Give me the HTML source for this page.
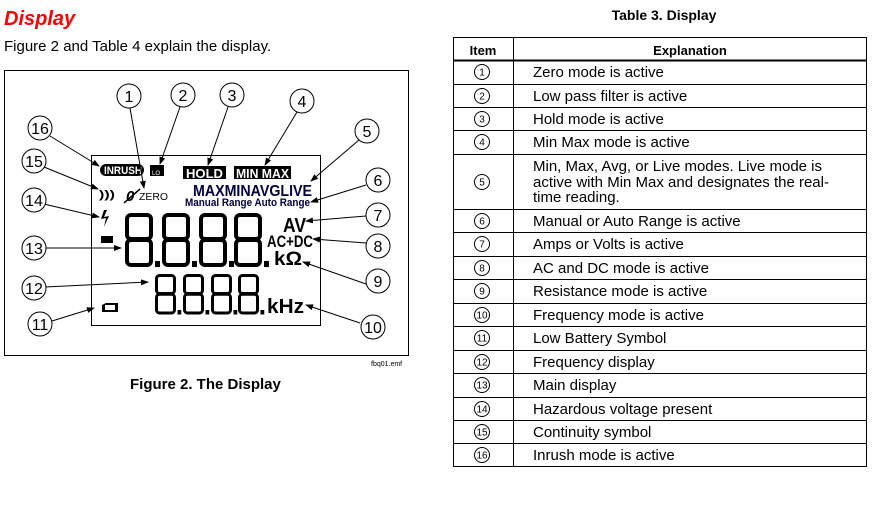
<!DOCTYPE html>
<html><head><meta charset="utf-8"><style>
html,body{margin:0;padding:0;background:#fff;}
svg{display:block;}
text{font-family:"Liberation Sans",Arial,sans-serif;}
</style></head><body>
<svg width="877" height="513" viewBox="0 0 877 513" xmlns="http://www.w3.org/2000/svg">
<defs>
<marker id="ah" markerWidth="8" markerHeight="8" refX="7" refY="4" orient="auto" markerUnits="userSpaceOnUse">
<path d="M0,1 L8,4 L0,7 Z" fill="#000"/></marker>
<g id="dg">
<rect x="2" y="2" width="24" height="24" rx="4" fill="none" stroke="#000" stroke-width="4"/>
<rect x="2" y="27" width="24" height="25" rx="4" fill="none" stroke="#000" stroke-width="4"/>
<rect x="30" y="48" width="5" height="6" fill="#000"/>
</g>
</defs>
<text x="4" y="25" font-size="20" font-weight="bold" font-style="italic" fill="#ff0000">Display</text>
<text x="4" y="51" font-size="15">Figure 2 and Table 4 explain the display.</text>
<rect x="4.5" y="70.5" width="404" height="285" fill="none" stroke="#000" stroke-width="1"/>
<rect x="91.5" y="155.5" width="229" height="170" fill="none" stroke="#000" stroke-width="1"/>
<text x="371" y="366" font-size="7">fbq01.emf</text>
<text x="130" y="389" font-size="15" font-weight="bold">Figure 2. The Display</text>
<rect x="100" y="164" width="44" height="12" rx="6" fill="#000"/>
<text x="104" y="174" font-size="11" font-weight="bold" fill="#fff" textLength="38" lengthAdjust="spacingAndGlyphs">INRUSH</text>
<rect x="150" y="165" width="14" height="11" fill="#000"/>
<text x="152" y="175" font-size="6" fill="#fff">LO</text>
<rect x="183" y="166" width="43" height="13" fill="#000"/>
<text x="186" y="178" font-size="13" font-weight="bold" fill="#fff" textLength="37" lengthAdjust="spacingAndGlyphs">HOLD</text>
<rect x="234" y="166" width="57" height="13" fill="#000"/>
<text x="236" y="178" font-size="13" font-weight="bold" fill="#fff" textLength="53" lengthAdjust="spacingAndGlyphs">MIN MAX</text>
<text x="193" y="196" font-size="16" font-weight="bold" fill="#000040" textLength="119" lengthAdjust="spacingAndGlyphs">MAXMINAVGLIVE</text>
<text x="185" y="206" font-size="11" font-weight="bold" fill="#000040" textLength="125" lengthAdjust="spacingAndGlyphs">Manual  Range Auto Range</text>
<text x="126" y="201" font-size="15" font-weight="bold" font-style="italic">0</text>
<line x1="124" y1="203" x2="140" y2="189" stroke="#000" stroke-width="1.5"/>
<text x="139" y="200" font-size="10" textLength="29" lengthAdjust="spacingAndGlyphs">ZERO</text>
<text x="99" y="198" font-size="11" font-weight="bold" textLength="16" lengthAdjust="spacingAndGlyphs">)))</text>
<path d="M104,210 L101,219 L106,218 L104,227 L109,216 L104,217 L107,210 Z" fill="#000"/>
<rect x="101" y="236" width="12" height="7" fill="#000"/>
<use href="#dg" x="125" y="213"/>
<use href="#dg" x="162" y="213"/>
<use href="#dg" x="199" y="213"/>
<use href="#dg" x="234" y="213"/>
<use href="#dg" transform="translate(155,274) scale(0.75)"/>
<use href="#dg" transform="translate(183,274) scale(0.75)"/>
<use href="#dg" transform="translate(211,274) scale(0.75)"/>
<use href="#dg" transform="translate(238,274) scale(0.75)"/>
<text x="283" y="232" font-size="20" font-weight="bold" textLength="23" lengthAdjust="spacingAndGlyphs">AV</text>
<text x="267" y="247" font-size="17" font-weight="bold" textLength="46" lengthAdjust="spacingAndGlyphs">AC+DC</text>
<text x="274" y="265" font-size="19" font-weight="bold" textLength="28" lengthAdjust="spacingAndGlyphs">kΩ</text>
<text x="267" y="313" font-size="20" font-weight="bold" textLength="37" lengthAdjust="spacingAndGlyphs">kHz</text>
<path d="M102,305 L106,303 L118,303 L118,312 L102,312 Z" fill="#000"/>
<rect x="105" y="305" width="10" height="5" fill="#fff"/>
<g stroke="#000" stroke-width="1" marker-end="url(#ah)" fill="none">
<line x1="130" y1="108" x2="144" y2="188"/>
<line x1="180" y1="107" x2="160" y2="164"/>
<line x1="228" y1="107" x2="208" y2="165"/>
<line x1="297" y1="112" x2="265" y2="165"/>
<line x1="359" y1="140" x2="311" y2="181"/>
<line x1="366" y1="185" x2="311" y2="202"/>
<line x1="366" y1="216" x2="306" y2="221"/>
<line x1="366" y1="243" x2="313" y2="239"/>
<line x1="366" y1="284" x2="303" y2="262"/>
<line x1="360" y1="323" x2="306" y2="305"/>
<line x1="52" y1="321" x2="94" y2="308"/>
<line x1="45" y1="287" x2="148" y2="282"/>
<line x1="45" y1="248" x2="121" y2="248"/>
<line x1="44" y1="204" x2="99" y2="217"/>
<line x1="44" y1="167" x2="98" y2="189"/>
<line x1="50" y1="136" x2="99" y2="166"/>
</g>
<g font-size="16" text-anchor="middle">
<g fill="#fff" stroke="#000" stroke-width="1">
<circle cx="129" cy="96" r="12"/><circle cx="183" cy="95" r="12"/><circle cx="232" cy="95" r="12"/><circle cx="302" cy="101" r="12"/>
<circle cx="367" cy="131" r="12"/><circle cx="378" cy="180" r="12"/><circle cx="378" cy="215" r="12"/><circle cx="378" cy="246" r="12"/>
<circle cx="378" cy="281" r="12"/><circle cx="373" cy="327" r="12"/><circle cx="40" cy="324" r="12"/><circle cx="34" cy="288" r="12"/>
<circle cx="34" cy="248" r="12"/><circle cx="34" cy="200" r="12"/><circle cx="34" cy="161" r="12"/><circle cx="40" cy="128" r="12"/>
</g>
<text x="129" y="102">1</text><text x="183" y="101">2</text><text x="232" y="101">3</text><text x="302" y="107">4</text>
<text x="367" y="137">5</text><text x="378" y="186">6</text><text x="378" y="221">7</text><text x="378" y="252">8</text>
<text x="378" y="287">9</text><text x="373" y="333">10</text><text x="40" y="330">11</text><text x="34" y="294">12</text>
<text x="34" y="254">13</text><text x="34" y="206">14</text><text x="34" y="167">15</text><text x="40" y="134">16</text>
</g>
<text x="664" y="20" font-size="14" font-weight="bold" text-anchor="middle">Table 3. Display</text>
<rect x="453.5" y="37.5" width="413" height="429" fill="none" stroke="#000"/>
<line x1="513.5" y1="37" x2="513.5" y2="467" stroke="#000"/>
<line x1="453" y1="60.5" x2="867" y2="60.5" stroke="#000" stroke-width="2"/>
<g stroke="#000" stroke-width="1">
<line x1="453" y1="84.5" x2="867" y2="84.5"/><line x1="453" y1="107.5" x2="867" y2="107.5"/>
<line x1="453" y1="130.5" x2="867" y2="130.5"/><line x1="453" y1="154.5" x2="867" y2="154.5"/>
<line x1="453" y1="209.5" x2="867" y2="209.5"/><line x1="453" y1="232.5" x2="867" y2="232.5"/>
<line x1="453" y1="256.5" x2="867" y2="256.5"/><line x1="453" y1="279.5" x2="867" y2="279.5"/>
<line x1="453" y1="303.5" x2="867" y2="303.5"/><line x1="453" y1="326.5" x2="867" y2="326.5"/>
<line x1="453" y1="350.5" x2="867" y2="350.5"/><line x1="453" y1="373.5" x2="867" y2="373.5"/>
<line x1="453" y1="397.5" x2="867" y2="397.5"/><line x1="453" y1="420.5" x2="867" y2="420.5"/>
<line x1="453" y1="443.5" x2="867" y2="443.5"/>
</g>
<text x="483" y="55" font-size="13" font-weight="bold" text-anchor="middle">Item</text>
<text x="690" y="55" font-size="13" font-weight="bold" text-anchor="middle">Explanation</text>
<g fill="none" stroke="#000" stroke-width="1">
<circle cx="482" cy="72" r="7.5"/><circle cx="482" cy="96" r="7.5"/><circle cx="482" cy="119" r="7.5"/><circle cx="482" cy="142" r="7.5"/>
<circle cx="482" cy="182" r="7.5"/><circle cx="482" cy="221" r="7.5"/><circle cx="482" cy="244" r="7.5"/><circle cx="482" cy="268" r="7.5"/>
<circle cx="482" cy="291" r="7.5"/><circle cx="482" cy="315" r="7.5"/><circle cx="482" cy="338" r="7.5"/><circle cx="482" cy="362" r="7.5"/>
<circle cx="482" cy="385" r="7.5"/><circle cx="482" cy="409" r="7.5"/><circle cx="482" cy="432" r="7.5"/><circle cx="482" cy="455" r="7.5"/>
</g>
<g font-size="10" text-anchor="middle">
<text x="482" y="75.5">1</text><text x="482" y="99.5">2</text><text x="482" y="122.5">3</text><text x="482" y="145.5">4</text>
<text x="482" y="185.5">5</text><text x="482" y="224.5">6</text><text x="482" y="247.5">7</text><text x="482" y="271.5">8</text>
<text x="482" y="294.5">9</text><text x="482" y="318.5">10</text><text x="482" y="341.5">11</text><text x="482" y="365.5">12</text>
<text x="482" y="388.5">13</text><text x="482" y="412.5">14</text><text x="482" y="435.5">15</text><text x="482" y="458.5">16</text>
</g>
<g font-size="15">
<text x="533" y="77">Zero mode is active</text>
<text x="533" y="101">Low pass filter is active</text>
<text x="533" y="124">Hold mode is active</text>
<text x="533" y="147">Min Max mode is active</text>
<text x="533" y="171">Min, Max, Avg, or Live modes. Live mode is</text>
<text x="533" y="187">active with Min Max and designates the real-</text>
<text x="533" y="202">time reading.</text>
<text x="533" y="226">Manual or Auto Range is active</text>
<text x="533" y="249">Amps or Volts is active</text>
<text x="533" y="273">AC and DC mode is active</text>
<text x="533" y="296">Resistance mode is active</text>
<text x="533" y="320">Frequency mode is active</text>
<text x="533" y="343">Low Battery Symbol</text>
<text x="533" y="367">Frequency display</text>
<text x="533" y="390">Main display</text>
<text x="533" y="414">Hazardous voltage present</text>
<text x="533" y="437">Continuity symbol</text>
<text x="533" y="460">Inrush mode is active</text>
</g>
</svg>
</body></html>
